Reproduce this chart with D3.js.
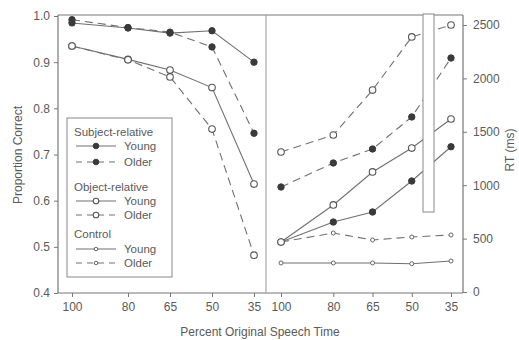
<!DOCTYPE html>
<html>
<head>
<meta charset="utf-8">
<script src="https://cdn.jsdelivr.net/npm/d3@7"></script>
<style>
  body { margin: 0; background: #fff; }
  text { font-family: "Liberation Sans", Arial, sans-serif; fill: #5a5a5a; }
</style>
</head>
<body>
<script>
// speech rate conditions (percent of original speech time)
var speechRates = [100, 80, 65, 50, 35];

// proportion correct (left panel)
var accSubjYoung = [0.985, 0.974, 0.963, 0.968, 0.900];
var accSubjOlder = [0.992, 0.975, 0.965, 0.933, 0.746];
var accObjYoung = [0.935, 0.906, 0.883, 0.845, 0.636];
var accObjOlder = [0.935, 0.905, 0.868, 0.755, 0.482];

// response time in ms (right panel)
var rtSubjYoung = [468, 655, 749, 1039, 1360];
var rtSubjOlder = [983, 1208, 1339, 1639, 2191];
var rtObjYoung = [468, 815, 1124, 1348, 1620];
var rtObjOlder = [1311, 1470, 1891, 2388, 2500];
var rtCtlYoung = [272, 272, 272, 265, 290];
var rtCtlOlder = [468, 552, 487, 515, 534];

var accTicks = [0.4, 0.5, 0.6, 0.7, 0.8, 0.9, 1.0];
var rtTicks = [0, 500, 1000, 1500, 2000, 2500];

window.onload = function() {

  var svg = d3.select("body").append("svg")
      .attr("width", 519)
      .attr("height", 340);

  var lineCol = "#707070";
  var dash = "8,5";

  var xL = d3.scaleLinear().domain([100, 35]).range([72, 254]);
  var xR = d3.scaleLinear().domain([100, 35]).range([281, 451]);
  var yL = d3.scaleLinear().domain([0.4, 1.0]).range([293, 16]);
  var yR = d3.scaleLinear().domain([0, 2500]).range([292, 25]);

  // frame
  var frame = svg.append("g")
      .attr("stroke", "#777")
      .attr("stroke-width", 1.2)
      .attr("fill", "none");
  frame.append("line").attr("x1", 58).attr("x2", 463).attr("y1", 15).attr("y2", 15);
  frame.append("line").attr("x1", 58).attr("x2", 463).attr("y1", 293).attr("y2", 293);
  frame.append("line").attr("x1", 58).attr("x2", 58).attr("y1", 15).attr("y2", 293);
  frame.append("line").attr("x1", 463).attr("x2", 463).attr("y1", 15).attr("y2", 293);
  frame.append("line").attr("x1", 266).attr("x2", 266).attr("y1", 15).attr("y2", 293)
      .attr("stroke", "#999").attr("stroke-width", 1);

  function styleAxis(g) {
    g.select(".domain").remove();
    g.selectAll(".tick line").attr("stroke", "#777");
    g.selectAll(".tick text")
        .attr("font-size", "12px")
        .attr("fill", "#5a5a5a")
        .attr("font-family", "Liberation Sans, Arial, sans-serif");
  }

  svg.append("g")
      .attr("transform", "translate(58,0)")
      .call(d3.axisLeft(yL).tickValues(accTicks).tickFormat(d3.format(".1f")).tickSize(4).tickPadding(4))
      .call(styleAxis);

  svg.append("g")
      .attr("transform", "translate(463,0)")
      .call(d3.axisRight(yR).tickValues(rtTicks).tickFormat(d3.format("d")).tickSize(4).tickPadding(6))
      .call(styleAxis);

  svg.append("g")
      .attr("transform", "translate(0,293)")
      .call(d3.axisBottom(xL).tickValues(speechRates).tickSize(4).tickPadding(5))
      .call(styleAxis);

  svg.append("g")
      .attr("transform", "translate(0,293)")
      .call(d3.axisBottom(xR).tickValues(speechRates).tickSize(4).tickPadding(5))
      .call(styleAxis);

  // axis titles
  svg.append("text")
      .attr("x", 260).attr("y", 336)
      .attr("text-anchor", "middle")
      .attr("font-size", "12px")
      .text("Percent Original Speech Time");

  svg.append("text")
      .attr("transform", "translate(22,155) rotate(-90)")
      .attr("text-anchor", "middle")
      .attr("font-size", "12px")
      .text("Proportion Correct");

  svg.append("text")
      .attr("transform", "translate(514,150) rotate(-90)")
      .attr("text-anchor", "middle")
      .attr("font-size", "12px")
      .text("RT (ms)");

  // series
  var series = [
    {x: xL, y: yL, v: accSubjYoung, dashed: false, m: "filled"},
    {x: xL, y: yL, v: accSubjOlder, dashed: true, m: "filled"},
    {x: xL, y: yL, v: accObjYoung, dashed: false, m: "open"},
    {x: xL, y: yL, v: accObjOlder, dashed: true, m: "open"},
    {x: xR, y: yR, v: rtCtlYoung, dashed: false, m: "small"},
    {x: xR, y: yR, v: rtCtlOlder, dashed: true, m: "small"},
    {x: xR, y: yR, v: rtSubjYoung, dashed: false, m: "filled"},
    {x: xR, y: yR, v: rtSubjOlder, dashed: true, m: "filled"},
    {x: xR, y: yR, v: rtObjYoung, dashed: false, m: "open"},
    {x: xR, y: yR, v: rtObjOlder, dashed: true, m: "open"}
  ];

  function drawMarker(sel, m) {
    if (m == "filled") {
      sel.attr("r", 3.2).attr("fill", "#3a3a3a").attr("stroke", "#3a3a3a");
    } else if (m == "open") {
      sel.attr("r", 3.3).attr("fill", "#fff").attr("stroke", "#555").attr("stroke-width", 1.1);
    } else {
      sel.attr("r", 2).attr("fill", "#fff").attr("stroke", "#666").attr("stroke-width", 1);
    }
  }

  series.forEach(function(s) {
    var pts = s.v.map(function(d, i) { return [speechRates[i], d]; });
    var line = d3.line()
        .x(function(d) { return s.x(d[0]); })
        .y(function(d) { return s.y(d[1]); });

    svg.append("path")
        .datum(pts)
        .attr("d", line)
        .attr("fill", "none")
        .attr("stroke", lineCol)
        .attr("stroke-width", 1.1)
        .attr("stroke-dasharray", s.dashed ? dash : null);

    svg.append("g").selectAll("circle")
        .data(pts)
        .enter()
        .append("circle")
        .attr("cx", function(d) { return s.x(d[0]); })
        .attr("cy", function(d) { return s.y(d[1]); })
        .call(drawMarker, s.m);
  });

  // scan artifact: white strip over the right panel
  svg.append("rect")
      .attr("x", 423).attr("y", 14)
      .attr("width", 11).attr("height", 198)
      .attr("fill", "#fff")
      .attr("stroke", "#888")
      .attr("stroke-width", 1);

  // legend
  var legend = svg.append("g");
  legend.append("rect")
      .attr("x", 67).attr("y", 118)
      .attr("width", 105).attr("height", 159)
      .attr("fill", "#fff")
      .attr("stroke", "#888")
      .attr("stroke-width", 1);

  var legendGroups = [
    {title: "Subject-relative", ty: 136, m: "filled", rows: [146, 162]},
    {title: "Object-relative", ty: 191, m: "open", rows: [201, 215]},
    {title: "Control", ty: 238, m: "small", rows: [249, 263]}
  ];

  legendGroups.forEach(function(g) {
    legend.append("text")
        .attr("x", 74).attr("y", g.ty)
        .attr("font-size", "11.5px")
        .text(g.title);

    g.rows.forEach(function(ry, i) {
      legend.append("line")
          .attr("x1", 76).attr("x2", 116)
          .attr("y1", ry).attr("y2", ry)
          .attr("stroke", lineCol)
          .attr("stroke-width", 1.1)
          .attr("stroke-dasharray", i == 1 ? "6,5" : null);
      legend.append("circle")
          .attr("cx", 96).attr("cy", ry)
          .call(drawMarker, g.m)
          .attr("r", g.m == "small" ? 1.8 : 2.8);
      legend.append("text")
          .attr("x", 124).attr("y", ry + 4)
          .attr("font-size", "11.5px")
          .text(i == 0 ? "Young" : "Older");
    });
  });
};
</script>
</body>
</html>
